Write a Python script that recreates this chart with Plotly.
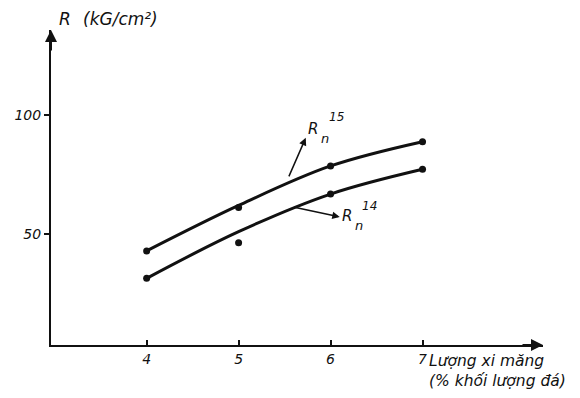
import plotly.graph_objects as go

# Data
cement = [4, 5, 6, 7]                      # Lượng xi măng (% khối lượng đá)
r15_measured = [42.9, 61.2, 78.6, 88.8]    # R_n^15 measured points
r14_measured = [31.4, 46.3, 66.8, 77.2]    # R_n^14 measured points
r15_fit = [42.9, 62.0, 78.6, 88.8]         # smoothed curve R_n^15
r14_fit = [31.4, 51.0, 66.8, 77.2]         # smoothed curve R_n^14
x_ticks = [4, 5, 6, 7]
y_ticks = [50, 100]

X_RANGE = [2.96, 8.31]
Y_RANGE = [3.4, 135.7]

FONT = "DejaVu Sans"
ink = "#111111"

def f(size):
    return dict(family=FONT, size=size, color=ink, style="italic")

fig = go.Figure()
for fit in (r15_fit, r14_fit):
    fig.add_trace(go.Scatter(x=cement, y=fit, mode="lines",
                             line=dict(color=ink, width=3, shape="spline", smoothing=1.0),
                             hoverinfo="skip", showlegend=False))
for meas in (r15_measured, r14_measured):
    fig.add_trace(go.Scatter(x=cement, y=meas, mode="markers",
                             marker=dict(color=ink, size=7),
                             showlegend=False))

ann = []
# axis arrowheads
ann.append(dict(x=X_RANGE[1], y=Y_RANGE[0], xref="x", yref="y", ax=-22, ay=0,
                showarrow=True, arrowhead=2, arrowsize=1.2, arrowwidth=2, arrowcolor=ink, text=""))
ann.append(dict(x=X_RANGE[0], y=Y_RANGE[1], xref="x", yref="y", ax=0, ay=22,
                showarrow=True, arrowhead=2, arrowsize=1.2, arrowwidth=2, arrowcolor=ink, text=""))
# curve label arrows
ann.append(dict(x=5.73, y=90.4, ax=5.54, ay=73.6, xref="x", yref="y", axref="x", ayref="y",
                showarrow=True, arrowhead=2, arrowsize=1, arrowwidth=1.5, arrowcolor=ink, text=""))
ann.append(dict(x=6.10, y=57.2, ax=5.59, ay=61.4, xref="x", yref="y", axref="x", ayref="y",
                showarrow=True, arrowhead=2, arrowsize=1, arrowwidth=1.5, arrowcolor=ink, text=""))
lab = dict(xref="x", yref="y", showarrow=False)
ann += [
    dict(x=5.81, y=94.2, text="R", font=f(15), **lab),
    dict(x=5.94, y=90.2, text="n", font=f(13), **lab),
    dict(x=6.06, y=99.3, text="15", font=f(12), **lab),
    dict(x=6.18, y=57.4, text="R", font=f(15), **lab),
    dict(x=6.31, y=53.6, text="n", font=f(13), **lab),
    dict(x=6.42, y=61.8, text="14", font=f(12), **lab),
]
# axis titles (placed in pixels, converted below)
pix = [
    dict(x=57, y=19, text="R", xanchor="left", yanchor="middle", font=f(17)),
    dict(x=81, y=19, text="(kG/cm²)", xanchor="left", yanchor="middle", font=f(17)),
    dict(x=427, y=350, text="Lượng xi măng<br>(% khối lượng đá)", xanchor="left",
         yanchor="top", align="left", font=f(15.5)),
]

L, R, T, B = 51, 37, 30, 53
W, H = 580, 398
pw, ph = W - L - R, H - T - B
for a in pix:
    a["x"] = (a["x"] - L) / pw
    a["y"] = (H - B - a["y"]) / ph
    a.update(xref="paper", yref="paper", showarrow=False)
    ann.append(a)

fig.update_layout(
    width=W, height=H,
    margin=dict(l=L, r=R, t=T, b=B, pad=0),
    paper_bgcolor="white", plot_bgcolor="white",
    annotations=ann,
    xaxis=dict(range=X_RANGE, tickvals=x_ticks, showgrid=False, zeroline=False,
               showline=True, linewidth=2, linecolor=ink,
               ticks="inside", ticklen=5, tickwidth=1.5, tickcolor=ink,
               tickfont=f(14)),
    yaxis=dict(range=Y_RANGE, tickvals=y_ticks, showgrid=False, zeroline=False,
               showline=True, linewidth=2, linecolor=ink,
               ticks="outside", ticklen=5, tickwidth=1.5, tickcolor=ink,
               tickfont=f(14)),
)

fig.write_html("out.html")
